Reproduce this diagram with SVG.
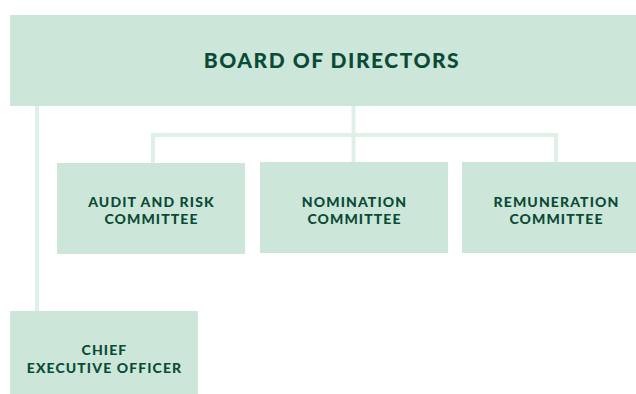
<svg xmlns="http://www.w3.org/2000/svg" width="636" height="394" viewBox="0 0 636 394">
<style>
.box{fill:#cce7da;}
.line{stroke:#dff0e6;stroke-width:4;fill:none;}
.t{font-family:Lato,"Liberation Sans",sans-serif;font-weight:900;fill:#0b4a35;text-anchor:middle;}
.big{font-size:21px;letter-spacing:1.5px;}
.sm{font-size:14px;letter-spacing:1.1px;}
</style>
<g id="connectors">
<path class="line" d="M37 106V311"/>
<path class="line" d="M353.5 106V162"/>
<path class="line" d="M153 163V135H556V162"/>
</g>
<g id="board">
<rect class="box" x="10" y="15" width="640" height="91"/>
<text class="t big" x="332" y="68">BOARD OF DIRECTORS</text>
</g>
<g id="audit">
<rect class="box" x="57" y="163" width="188" height="91"/>
<text class="t sm" x="151.5" y="207">AUDIT AND RISK</text>
<text class="t sm" x="151.5" y="224">COMMITTEE</text>
</g>
<g id="nomination">
<rect class="box" x="260" y="162" width="188" height="91"/>
<text class="t sm" x="354.5" y="207">NOMINATION</text>
<text class="t sm" x="354.5" y="224">COMMITTEE</text>
</g>
<g id="remuneration">
<rect class="box" x="462" y="162" width="188" height="91"/>
<text class="t sm" x="556.5" y="207">REMUNERATION</text>
<text class="t sm" x="556.5" y="224">COMMITTEE</text>
</g>
<g id="ceo">
<rect class="box" x="10" y="311" width="188" height="83"/>
<text class="t sm" x="104.5" y="355">CHIEF</text>
<text class="t sm" x="104.5" y="373">EXECUTIVE OFFICER</text>
</g>
</svg>
